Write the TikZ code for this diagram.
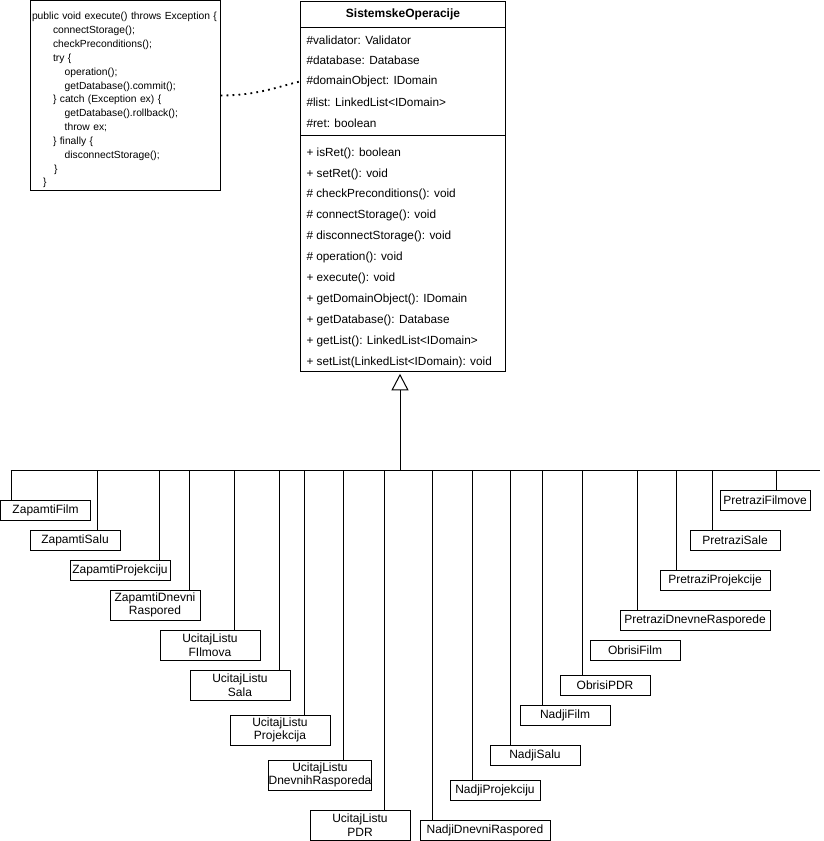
\documentclass[tikz,border=0pt]{standalone}
\usepackage{fontspec}
\setmainfont{Liberation Sans}
\usetikzlibrary{arrows.meta, positioning, calc}

\begin{document}
\begin{tikzpicture}[
			x=1pt, y=1pt, line width=1pt,
			notebox/.style={rectangle, draw, minimum width=190, minimum height=190, inner sep=2,
				text width=186, align=left, font=\fontsize{10.3}{13.83}\selectfont},
			clshead/.style={rectangle, draw, minimum width=205, minimum height=26, inner sep=0,
				font=\fontsize{12}{14}\bfseries},
			row/.style={anchor=west, inner xsep=6, inner ysep=0, font=\fontsize{11.8}{14}\selectfont},
			opbox/.style={rectangle, draw, minimum width=90, minimum height=20, inner sep=0,
				align=center, font=\fontsize{12}{13.7}\selectfont},
			dots/.style={line width=1.8pt, dash pattern=on 1.8pt off 4.2pt},
			inherit/.style={-{Triangle[open, width=17pt, length=16.5pt]}, shorten >=2.3pt}
			]
			\useasboundingbox (0,0) rectangle (823,-841);
			
			\node[notebox] (note) at (125,-95.5) {%
				\rule{0pt}{17pt}public void execute() throws Exception \{\\
				\hspace*{21pt}connectStorage();\\
				\hspace*{21pt}checkPreconditions();\\
				\hspace*{21pt}try \{\\
				\hspace*{32.7pt}operation();\\
				\hspace*{32.7pt}getDatabase().commit();\\
				\hspace*{21pt}\} catch (Exception ex) \{\\
				\hspace*{32.7pt}getDatabase().rollback();\\
				\hspace*{32.7pt}throw ex;\\
				\hspace*{21pt}\} finally \{\\
				\hspace*{32.7pt}disconnectStorage();\\
				\hspace*{22pt}\}\\
				\hspace*{11pt}\}};
			
			\node[draw, minimum width=205, minimum height=370, inner sep=0, anchor=north west] (cls) at (300,-0.5) {};
			\node[clshead, anchor=north] (title) at (cls.north) {SistemskeOperacije};
			\draw ([yshift=-135.2]cls.north west) -- ([yshift=-135.2]cls.north east);
			
			\foreach \t [count=\i] in {{\#validator: Validator}, {\#database: Database}, {\#domainObject: IDomain},
				{\#list: LinkedList<IDomain>}, {\#ret: boolean}}
				\node[row] (attr\i) at (300,{-40-20.75*(\i-1)}) {\t};
			\foreach \t [count=\i] in {{+ isRet(): boolean}, {+ setRet(): void}, {\# checkPreconditions(): void},
				{\# connectStorage(): void}, {\# disconnectStorage(): void}, {\# operation(): void},
				{+ execute(): void}, {+ getDomainObject(): IDomain}, {+ getDatabase(): Database},
				{+ getList(): LinkedList<IDomain>}, {+ setList(LinkedList<IDomain): void}}
				\node[row] (meth\i) at (300,{-153-20.97*(\i-1)}) {\t};
			
			\draw[dots] (note.east) .. controls (258,-95.5) and (280,-86) .. (attr3.west);
			
			\node[opbox] (ZF) at (45.5,-510) {ZapamtiFilm};
			\node[opbox] (ZS) at (75,-540) {ZapamtiSalu};
			\node[opbox, minimum width=100] (ZP) at (120,-570) {ZapamtiProjekciju};
			\node[opbox, minimum height=30] (ZDR) at (155,-605) {ZapamtiDnevni\\Raspored};
			\node[opbox, minimum width=100, minimum height=30] (ULF) at (210,-645) {UcitajListu\\FIlmova};
			\node[opbox, minimum width=100, minimum height=30] (ULS) at (240,-685) {UcitajListu\\Sala};
			\node[opbox, minimum width=100, minimum height=30] (ULP) at (280,-730) {UcitajListu\\Projekcija};
			\node[opbox, minimum width=100, minimum height=30] (ULDR) at (320,-775) {UcitajListu\\DnevnihRasporeda};
			\node[opbox, minimum width=100, minimum height=30] (ULPDR) at (360,-825) {UcitajListu\\PDR};
			
			\node[opbox, minimum width=130] (NDR) at (485,-830) {NadjiDnevniRaspored};
			\node[opbox] (NP) at (495,-790) {NadjiProjekciju};
			\node[opbox] (NS) at (535,-755) {NadjiSalu};
			\node[opbox] (NF) at (565,-715) {NadjiFilm};
			\node[opbox] (OPDR) at (605,-685) {ObrisiPDR};
			\node[opbox] (OF) at (635,-650) {ObrisiFilm};
			\node[opbox, minimum width=150] (PDR) at (695,-620) {PretraziDnevneRasporede};
			\node[opbox, minimum width=110] (PP) at (715,-580) {PretraziProjekcije};
			\node[opbox] (PS) at (735,-540) {PretraziSale};
			\node[opbox] (PF) at (765,-500) {PretraziFilmove};
			
			\coordinate (bus) at (400,-470);
			\coordinate (busL) at (10.5,-470);
			\coordinate (busR) at (820,-470);
			\draw (busL) -- (busR);
			\draw[inherit] (bus) -- (bus |- cls.south);
			
			\foreach \n/\d in {ZF/11, ZS/68, ZP/89.5, ZDR/80, ULF/75, ULS/89.5, ULP/75, ULDR/75, ULPDR/75,
				NDR/13, NP/23, NS/21, NF/23.3, OPDR/23.3, PDR/18, PP/17, PS/23, PF/56.7}
				\draw ([xshift=\d]\n.north west) -- ([xshift=\d]\n.north west |- bus);
		\end{tikzpicture}
\end{document}
